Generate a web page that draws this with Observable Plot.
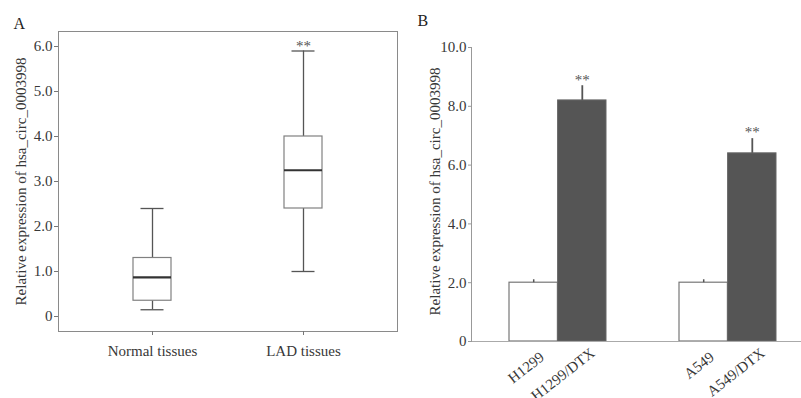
<!DOCTYPE html>
<html>
<head>
<meta charset="utf-8">
<script src="https://cdn.jsdelivr.net/npm/d3@7"></script>
<script src="https://cdn.jsdelivr.net/npm/@observablehq/plot@0.6"></script>
<style>
  html, body { margin: 0; padding: 0; background: #fff; }
  #wrap { position: relative; width: 801px; height: 398px; overflow: hidden; }
  #a, #b { position: absolute; top: 0; }
  #a { left: 0; }
  #b { left: 400px; }
  svg, svg text { font-family: "Liberation Serif", "Times New Roman", serif !important; }
</style>
</head>
<body>
<div id="wrap"><div id="a"></div><div id="b"></div></div>
<script>
// ---- Panel A data (box plot) ----
const boxCats = ["Normal tissues", "LAD tissues"];
const boxMin = [0.15, 1.0];
const boxQ1 = [0.35, 2.4];
const boxMed = [0.87, 3.25];
const boxQ3 = [1.3, 4.0];
const boxMax = [2.4, 5.9];
const boxSig = ["", "**"];
const yTicksA = [0, 1, 2, 3, 4, 5, 6];

// ---- Panel B data (bar chart) ----
const cellLines = ["H1299", "A549"];
const ctrlValues = [2.0, 2.0];
const ctrlErr = [0.1, 0.1];
const dtxValues = [8.2, 6.4];
const dtxErr = [0.5, 0.5];
const ctrlLabels = ["H1299", "A549"];
const dtxLabels = ["H1299/DTX", "A549/DTX"];
const dtxSig = ["**", "**"];
const yTicksB = [0, 2, 4, 6, 8, 10];

const yTitle = "Relative expression of hsa_circ_0003998";
const FONT = "Liberation Serif";
const TXT = "#383838";

const boxData = boxCats.map((c, i) => ({
  cat: c, min: boxMin[i], q1: boxQ1[i], med: boxMed[i], q3: boxQ3[i], max: boxMax[i], sig: boxSig[i]
}));

const fmt = d => d === 0 ? "0" : d.toFixed(1);

const plotA = Plot.plot({
  width: 400, height: 398,
  marginLeft: 58, marginRight: 3, marginTop: 31, marginBottom: 67,
  style: { fontFamily: FONT, fontSize: "15px", color: TXT, background: "transparent" },
  x: { domain: boxCats, paddingInner: 0.748, paddingOuter: 0.4965 },
  y: { domain: [-1/3, 6 + 1/3] },
  marks: [
    Plot.frame({ stroke: "#8a8a8a" }),
    Plot.axisY({ ticks: yTicksA, tickFormat: fmt, tickSize: 4, tickPadding: 2, stroke: "#777", fill: TXT, fontSize: 15, label: null }),
    Plot.axisX({ tickSize: 4, tickPadding: 10, stroke: "#777", fill: TXT, fontSize: 15, label: null }),
    Plot.ruleX(boxData, { x: "cat", y1: "q3", y2: "max", stroke: "#555", strokeWidth: 1.3 }),
    Plot.ruleX(boxData, { x: "cat", y1: "min", y2: "q1", stroke: "#555", strokeWidth: 1.3 }),
    Plot.tickY(boxData, { x: "cat", y: "max", insetLeft: 7.5, insetRight: 7.5, stroke: "#555", strokeWidth: 1.3 }),
    Plot.tickY(boxData, { x: "cat", y: "min", insetLeft: 7.5, insetRight: 7.5, stroke: "#555", strokeWidth: 1.3 }),
    Plot.barY(boxData, { x: "cat", y1: "q1", y2: "q3", fill: "white", stroke: "#808080", strokeWidth: 1.2 }),
    Plot.tickY(boxData, { x: "cat", y: "med", stroke: "#333", strokeWidth: 2.2 }),
    Plot.text(boxData, { x: "cat", y: "max", text: "sig", dy: -5, fill: "#555", fontSize: 15 }),
    Plot.text([yTitle], { frameAnchor: "left", textAnchor: "middle", text: d => d, rotate: -90, dx: -37, fill: TXT, fontSize: 15 }),
    Plot.text(["A"], { frameAnchor: "top-left", text: d => d, textAnchor: "start", lineAnchor: "top", dx: -45, dy: -14, fill: "#222", fontSize: 16 })
  ]
});
document.getElementById("a").appendChild(plotA);

const barData = cellLines.map((c, i) => ({
  cell: c, ctrl: ctrlValues[i], ctrlTop: ctrlValues[i] + ctrlErr[i],
  dtx: dtxValues[i], dtxTop: dtxValues[i] + dtxErr[i],
  ctrlLabel: ctrlLabels[i], dtxLabel: dtxLabels[i], sig: dtxSig[i]
}));

const half = 48.6;
const q = half / 2;

const plotB = Plot.plot({
  width: 401, height: 398,
  marginLeft: 71, marginRight: 0, marginTop: 47, marginBottom: 57,
  style: { fontFamily: FONT, fontSize: "15px", color: TXT, background: "transparent" },
  x: { domain: cellLines, range: [108, 376], paddingInner: 0.431, paddingOuter: 0, axis: null },
  y: { domain: [0, 10] },
  marks: [
    Plot.barY(barData, { x: "cell", y: "ctrl", insetRight: half, fill: "white", stroke: "#777", strokeWidth: 1.2 }),
    Plot.barY(barData, { x: "cell", y: "dtx", insetLeft: half, fill: "#555555", stroke: "#666", strokeWidth: 1 }),
    Plot.ruleX(barData, { x: "cell", y1: "ctrl", y2: "ctrlTop", dx: -q, stroke: "#555", strokeWidth: 1.5 }),
    Plot.ruleX(barData, { x: "cell", y1: "dtx", y2: "dtxTop", dx: q, stroke: "#555", strokeWidth: 1.8 }),
    Plot.text(barData, { x: "cell", y: "dtxTop", text: "sig", dx: q, dy: -6, fill: "#555", fontSize: 15 }),
    Plot.ruleY([0], { stroke: "#aaa", strokeWidth: 1.2 }),
    Plot.frame({ anchor: "left", stroke: "#999" }),
    Plot.axisY({ ticks: yTicksB, tickFormat: fmt, tickSize: 3, tickPadding: 2, stroke: "#999", fill: TXT, fontSize: 15, label: null }),
    Plot.text(barData, { x: "cell", y: 0, text: "ctrlLabel", dx: -q + 5, dy: 9, rotate: -38, textAnchor: "end", lineAnchor: "top", fill: TXT, fontSize: 15 }),
    Plot.text(barData, { x: "cell", y: 0, text: "dtxLabel", dx: q + 7, dy: 5, rotate: -38, textAnchor: "end", lineAnchor: "top", fill: TXT, fontSize: 15 }),
    Plot.text([yTitle], { frameAnchor: "left", textAnchor: "middle", text: d => d, rotate: -90, dx: -36, dy: -3, fill: TXT, fontSize: 15 }),
    Plot.text(["B"], { frameAnchor: "top-left", text: d => d, textAnchor: "start", lineAnchor: "top", dx: -54, dy: -33, fill: "#222", fontSize: 16 })
  ]
});
document.getElementById("b").appendChild(plotB);
</script>
</body>
</html>
